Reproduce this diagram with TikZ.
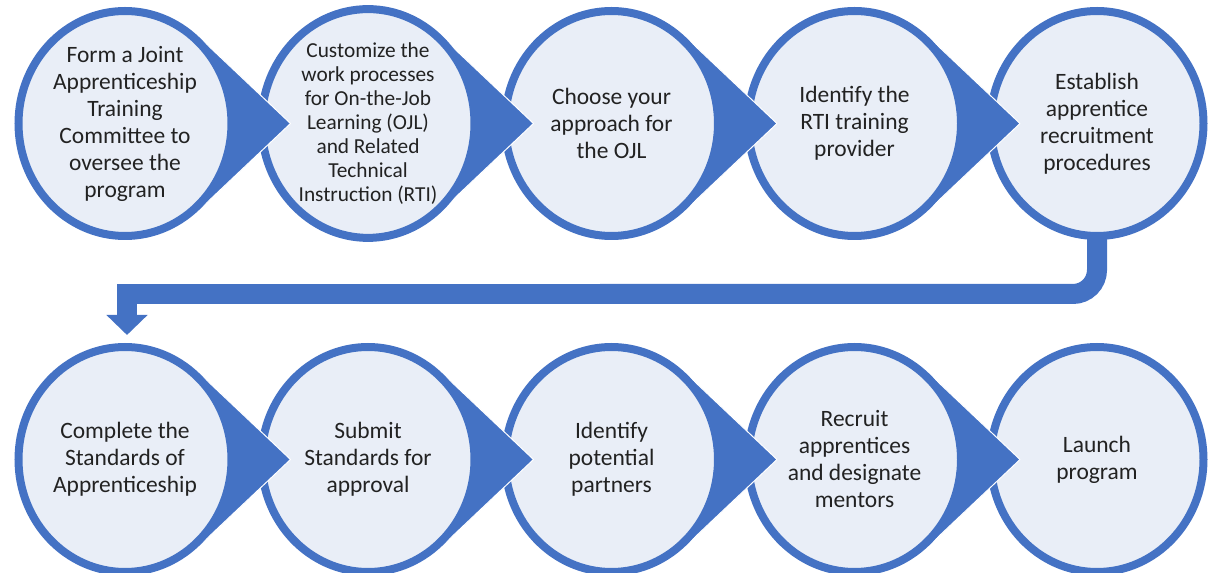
\documentclass[tikz,border=0pt]{standalone}
\usepackage{fontspec}
\setmainfont{Carlito}
\usetikzlibrary{shapes.geometric,arrows.meta}
\definecolor{bblue}{HTML}{4472C4}
\definecolor{lfill}{RGB}{233,238,247}
\definecolor{txt}{HTML}{222222}
\newcommand\pointerfrom[1]{%
  \path[pointer] ([shift={(73.8,-86.7)}]#1) -- ([shift={(165.5,0)}]#1) -- ([shift={(73.8,86.7)}]#1) -- cycle;}
\begin{document}
\begin{tikzpicture}[x=0.75pt,y=-0.75pt,
  stepnode/.style={ellipse, draw=bblue, fill=lfill, line width=6pt,
    minimum width=159.75pt, minimum height=168.75pt, inner sep=0pt,
    align=center, text=txt, font=\fontsize{17.6}{20.25}\selectfont},
  smalltext/.style={font=\fontsize{16}{18}\selectfont},
  pointer/.style={fill=bblue, draw=white, line width=0.75pt, line join=round},
  conn/.style={draw=bblue, line width=15pt}]
\useasboundingbox (0,0) rectangle (1208,573);
\clip (0,0) rectangle (1208,573);
% centres
\coordinate (c1) at (125,123.5);
\coordinate (c2) at (368,123.5);
\coordinate (c3) at (611.5,123.5);
\coordinate (c4) at (854.5,123.5);
\coordinate (c5) at (1097,123.5);
\coordinate (c6) at (125,459.5);
\coordinate (c7) at (368,459.5);
\coordinate (c8) at (611.5,459.5);
\coordinate (c9) at (854.5,459.5);
\coordinate (c10) at (1097,459.5);
% row 1
\node[stepnode] (n5) at (c5) {Establish\\apprentice\\recruitment\\procedures};
\pointerfrom{c4}
\node[stepnode] (n4) at (c4) {Identify the\\RTI training\\provider};
\pointerfrom{c3}
\node[stepnode] (n3) at (c3) {Choose your\\approach for\\the OJL};
\pointerfrom{c2}
\node[stepnode, smalltext] (n2) at (c2) {Customize the\\work processes\\for On-the-Job\\Learning (OJL)\\and Related\\Technical\\Instruction (RTI)};
\pointerfrom{c1}
\node[stepnode] (n1) at (c1) {Form a Joint\\Apprenticeship\\Training\\Committee to\\oversee the\\program};
% row 2
\node[stepnode] (n10) at (c10) {Launch\\program};
\pointerfrom{c9}
\node[stepnode] (n9) at (c9) {Recruit\\apprentices\\and designate\\mentors};
\pointerfrom{c8}
\node[stepnode] (n8) at (c8) {Identify\\potential\\partners};
\pointerfrom{c7}
\node[stepnode] (n7) at (c7) {Submit\\Standards for\\approval};
\pointerfrom{c6}
\node[stepnode] (n6) at (c6) {Complete the\\Standards of\\Apprenticeship};
% connector
\coordinate (bend) at (0,294);
\coordinate (mid1) at (600,294);
\coordinate (mid2) at (610,294);
\coordinate (tipF) at (127,335);
\draw[conn, rounded corners=18pt] ([yshift=3pt]n5.south) -- (n5.south |- bend) -- (mid1);
\draw[conn, line join=miter, -{Triangle[length=15pt,width=30pt]}] (mid2) -- (tipF |- bend) -- (tipF);
\end{tikzpicture}
\end{document}
